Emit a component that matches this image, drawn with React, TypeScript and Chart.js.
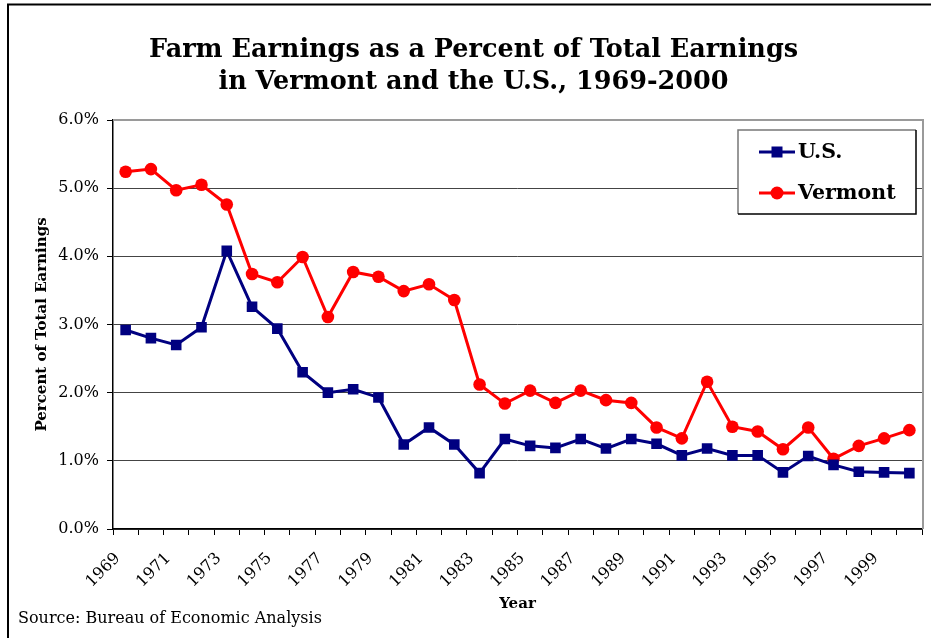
import React, { useEffect, useRef } from 'react';
import { Chart, registerables } from 'chart.js';

Chart.register(...registerables);

const years = [
  '1969', '1970', '1971', '1972', '1973', '1974', '1975', '1976', '1977', '1978',
  '1979', '1980', '1981', '1982', '1983', '1984', '1985', '1986', '1987', '1988',
  '1989', '1990', '1991', '1992', '1993', '1994', '1995', '1996', '1997', '1998',
  '1999', '2000',
];

const usValues = [
  2.92, 2.80, 2.70, 2.96, 4.08, 3.26, 2.94, 2.30, 2.00, 2.05,
  1.93, 1.24, 1.49, 1.24, 0.82, 1.32, 1.22, 1.19, 1.32, 1.18,
  1.32, 1.25, 1.08, 1.18, 1.08, 1.08, 0.83, 1.07, 0.94, 0.84,
  0.83, 0.82,
];

const vermontValues = [
  5.24, 5.28, 4.97, 5.05, 4.76, 3.74, 3.62, 3.99, 3.11, 3.77,
  3.70, 3.49, 3.59, 3.36, 2.12, 1.84, 2.03, 1.85, 2.03, 1.89,
  1.85, 1.49, 1.33, 2.16, 1.50, 1.43, 1.17, 1.49, 1.03, 1.22,
  1.33, 1.45,
];

const seriesNames = ['U.S.', 'Vermont'];
const titleLines = ['Farm Earnings as a Percent of Total Earnings', 'in Vermont and the U.S., 1969-2000'];
const yAxisTitle = 'Percent of Total Earnings';
const xAxisTitle = 'Year';
const sourceNote = 'Source: Bureau of Economic Analysis';

const SERIF = '"DejaVu Serif", serif';

const decorPlugin = {
  id: 'decor',
  afterDraw(chart: any) {
    const ctx = chart.ctx;
    const area = chart.chartArea;
    ctx.save();
    // outer frame
    ctx.strokeStyle = '#000';
    ctx.lineWidth = 2;
    ctx.strokeRect(8, 4.5, 940, 660);

    // plot area right & top border
    ctx.strokeStyle = '#9a9a9a';
    ctx.lineWidth = 2;
    ctx.beginPath();
    ctx.moveTo(area.left, area.top);
    ctx.lineTo(area.right + 1, area.top);
    ctx.lineTo(area.right + 1, area.bottom);
    ctx.stroke();

    // title
    ctx.fillStyle = '#000';
    ctx.textAlign = 'center';
    ctx.textBaseline = 'alphabetic';
    ctx.font = 'bold 25.5px ' + SERIF;
    ctx.fillText(titleLines[0], 473.5, 57);
    ctx.fillText(titleLines[1], 473.5, 89);

    // source
    ctx.textAlign = 'left';
    ctx.font = '16px ' + SERIF;
    ctx.fillText(sourceNote, 18, 623);

    // legend
    const lx = 738, ly = 130, lw = 178, lh = 84;
    ctx.fillStyle = '#fff';
    ctx.fillRect(lx, ly, lw, lh);
    ctx.lineWidth = 1.5;
    ctx.strokeStyle = '#777';
    ctx.beginPath();
    ctx.moveTo(lx, ly + lh);
    ctx.lineTo(lx, ly);
    ctx.lineTo(lx + lw, ly);
    ctx.stroke();
    ctx.strokeStyle = '#000';
    ctx.beginPath();
    ctx.moveTo(lx + lw, ly);
    ctx.lineTo(lx + lw, ly + lh);
    ctx.lineTo(lx, ly + lh);
    ctx.stroke();

    const rows = [152, 193];
    chart.data.datasets.forEach((ds: any, i: number) => {
      const y = rows[i];
      ctx.strokeStyle = ds.borderColor;
      ctx.lineWidth = 3;
      ctx.beginPath();
      ctx.moveTo(759, y);
      ctx.lineTo(795, y);
      ctx.stroke();
      ctx.fillStyle = ds.pointBackgroundColor;
      if (ds.pointStyle === 'rect') {
        ctx.fillRect(777 - 5.5, y - 5.5, 11, 11);
      } else {
        ctx.beginPath();
        ctx.arc(777, y, 6.5, 0, Math.PI * 2);
        ctx.fill();
      }
      ctx.fillStyle = '#000';
      ctx.font = 'bold 20.5px ' + SERIF;
      ctx.textAlign = 'left';
      ctx.textBaseline = 'middle';
      ctx.fillText(ds.label, 798, y + 1);
    });
    ctx.restore();
  },
};

export default function App() {
  const ref = useRef<HTMLCanvasElement | null>(null);

  useEffect(() => {
    if (!ref.current) return;
    const chart = new Chart(ref.current, {
      type: 'line',
      data: {
        labels: years,
        datasets: [
          {
            label: seriesNames[0],
            data: usValues,
            borderColor: '#000080',
            backgroundColor: '#000080',
            pointBackgroundColor: '#000080',
            pointBorderColor: '#000080',
            pointStyle: 'rect',
            pointRadius: 7.5,
            pointBorderWidth: 0,
            borderWidth: 3,
            tension: 0,
          },
          {
            label: seriesNames[1],
            data: vermontValues,
            borderColor: '#ff0000',
            backgroundColor: '#ff0000',
            pointBackgroundColor: '#ff0000',
            pointBorderColor: '#ff0000',
            pointStyle: 'circle',
            pointRadius: 6.3,
            pointBorderWidth: 0,
            borderWidth: 3,
            tension: 0,
          },
        ],
      },
      options: {
        responsive: false,
        animation: false,
        events: [],
        layout: { padding: { left: 0, top: 120, right: 9, bottom: 0 } },
        plugins: {
          legend: { display: false },
          title: { display: false },
          tooltip: { enabled: false },
        },
        scales: {
          x: {
            type: 'category',
            offset: true,
            grid: {
              offset: true,
              drawOnChartArea: false,
              drawTicks: true,
              tickLength: 6,
              tickColor: '#000',
              tickWidth: 1,
            },
            border: { color: '#000', width: 1.5 },
            ticks: {
              autoSkip: false,
              maxRotation: 45,
              minRotation: 45,
              padding: 14,
              labelOffset: -8,
              color: '#000',
              font: { family: SERIF, size: 16 },
              callback: (_v: any, i: number) => (i % 2 === 0 ? years[i] : ''),
            },
            title: {
              display: true,
              text: xAxisTitle,
              color: '#000',
              font: { family: SERIF, size: 15, weight: 'bold' },
              padding: { top: 0, bottom: 25 },
            },
            afterFit: (s: any) => {
              s.height = 109;
              s.paddingLeft = 0;
              s.paddingRight = 0;
            },
          },
          y: {
            min: 0,
            max: 6,
            grid: {
              color: (c: any) => (c.tick && c.tick.value === 6 ? '#9a9a9a' : '#444'),
              lineWidth: 1,
              tickLength: 6,
              tickColor: '#000',
            },
            border: { color: '#000', width: 1.5 },
            ticks: {
              stepSize: 1,
              padding: 8,
              color: '#000',
              font: { family: SERIF, size: 16 },
              callback: (v: any) => Number(v).toFixed(1) + '%',
            },
            title: {
              display: true,
              text: yAxisTitle,
              color: '#000',
              font: { family: SERIF, size: 15, weight: 'bold' },
              padding: { top: 33, bottom: 0 },
            },
            afterFit: (s: any) => {
              s.width = 113;
              s.paddingTop = 0;
              s.paddingBottom = 0;
            },
          },
        },
      },
      plugins: [decorPlugin],
    });
    return () => chart.destroy();
  }, []);

  return (
    <div style={{ position: 'fixed', left: 0, top: 0, width: 931, height: 638, background: '#fff' }}>
      <canvas ref={ref} width={931} height={638} style={{ display: 'block' }} />
    </div>
  );
}
